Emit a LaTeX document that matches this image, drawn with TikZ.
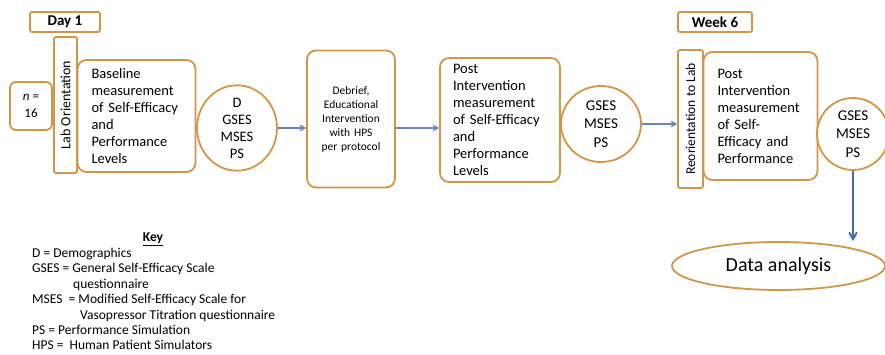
\documentclass[tikz,border=0pt]{standalone}
\usepackage{fontspec}
\setmainfont{Carlito}
\usetikzlibrary{arrows, shapes.geometric, positioning}
\hyphenpenalty=10000
\exhyphenpenalty=10000
\definecolor{stageOrange}{RGB}{211,150,72}
\definecolor{flowBlue}{RGB}{104,132,192}
\definecolor{downBlue}{RGB}{72,104,172}
\tikzstyle{stageBox} = [draw=stageOrange, line width=1.8pt, rounded corners=9pt,
   fill=white, inner ysep=0pt]
\tikzstyle{tagBox} = [draw=stageOrange, line width=1.8pt, rounded corners=2pt,
   inner sep=0pt, fill=white]
\tikzstyle{measureOval} = [draw=stageOrange, line width=1.8pt, ellipse,
   inner sep=0pt, align=center, fill=white]
\tikzstyle{flowArrow} = [->, >=angle 60, draw=flowBlue, line width=1.2pt]

\begin{document}
\begin{tikzpicture}[x=1pt, y=-1pt]
  \useasboundingbox (0,0) rectangle (885,355);
  % Day 1 session
  \node[tagBox, minimum width=70pt, minimum height=20pt,
        font=\fontsize{15}{18}\selectfont\bfseries] (dayOne) at (65,22) {Day 1};
  \node[tagBox, rotate=90, minimum width=136pt, minimum height=23pt,
        font=\fontsize{14}{17}\selectfont] (labOrient) at (65.5,105) {Lab Orientation};
  \node[tagBox, rounded corners=6pt, minimum width=42pt, minimum height=48pt,
        align=center, font=\fontsize{13}{17}\selectfont] (sampleSize) at (31,106) {\textit{n} =\\16};
  \node[stageBox, minimum width=117pt, minimum height=112pt, text width=90pt,
        inner xsep=14pt, align=left, font=\fontsize{14.5}{17}\selectfont] (baseline) at (136.5,116)
        {Baseline\\measurement\\of Self-Efficacy\\and\\Performance\\Levels};
  \node[measureOval, minimum width=80pt, minimum height=76pt,
        font=\fontsize{14.5}{17}\selectfont] (baseOval) at (237,128) {D\\GSES\\MSES\\PS};
  % intervention
  \node[stageBox, minimum width=88pt, minimum height=137pt, text width=76pt,
        inner xsep=6pt, align=center, font=\fontsize{11.5}{14}\selectfont] (debrief) at (351,119)
        {Debrief,\\Educational\\Intervention\\with HPS\\per protocol};
  \node[stageBox, minimum width=120pt, minimum height=124pt, text width=94pt,
        inner xsep=13pt, align=left, font=\fontsize{14.5}{17}\selectfont] (postOne) at (500,120)
        {Post\\Intervention\\measurement\\of Self-Efficacy\\and\\Performance\\Levels};
  \node[measureOval, minimum width=80pt, minimum height=76pt,
        font=\fontsize{15}{18.5}\selectfont] (postOval) at (601,124) {GSES\\MSES\\PS};
  % Week 6 session
  \node[tagBox, minimum width=74pt, minimum height=20pt,
        font=\fontsize{15}{18}\selectfont\bfseries] (weekSix) at (715,22) {Week 6};
  \node[tagBox, rotate=90, minimum width=138pt, minimum height=25pt,
        font=\fontsize{13.5}{17}\selectfont] (reOrient) at (690.5,119) {Reorientation to Lab};
  \node[stageBox, minimum width=113pt, minimum height=128pt, text width=86pt,
        inner xsep=14pt, align=left, font=\fontsize{14.5}{17}\selectfont] (postTwo) at (760.5,116)
        {Post\\Intervention\\measurement\\of Self-\\Efficacy and\\Performance};
  \node[measureOval, minimum width=72pt, minimum height=72pt,
        font=\fontsize{15}{18.5}\selectfont] (finalOval) at (853,134) {GSES\\MSES\\PS};
  \node[measureOval, minimum width=213pt, minimum height=48pt,
        font=\fontsize{20}{24}\selectfont] (dataAnalysis) at (778.5,266) {Data analysis};
  % key
  \node[font=\fontsize{13.5}{16}\selectfont\bfseries] (keyTitle) at (153,239) {\underline{Key}};
  \node[anchor=north west, inner sep=0pt, align=left,
        font=\fontsize{13.5}{15.4}\selectfont] (keyList) at (32,248)
        {D = Demographics\\
         GSES = General Self-Efficacy Scale\\
         \hspace*{41pt}questionnaire\\
         MSES\ \ = Modified Self-Efficacy Scale for\\
         \hspace*{48pt}Vasopressor Titration questionnaire\\
         PS = Performance Simulation\\
         HPS =\ \ Human Patient Simulators};
  % arrows
  \draw[flowArrow] (baseOval.east) -- (baseOval.east -| debrief.west);
  \draw[flowArrow] (debrief.east |- baseOval.east) -- (postOne.west |- baseOval.east);
  \draw[flowArrow] (postOval.east) -- (postOval.east -| reOrient.north);
  \draw[->, >=angle 60, draw=downBlue, line width=2pt] (finalOval.south) -- (finalOval.south |- dataAnalysis.north);
\end{tikzpicture}
\end{document}
